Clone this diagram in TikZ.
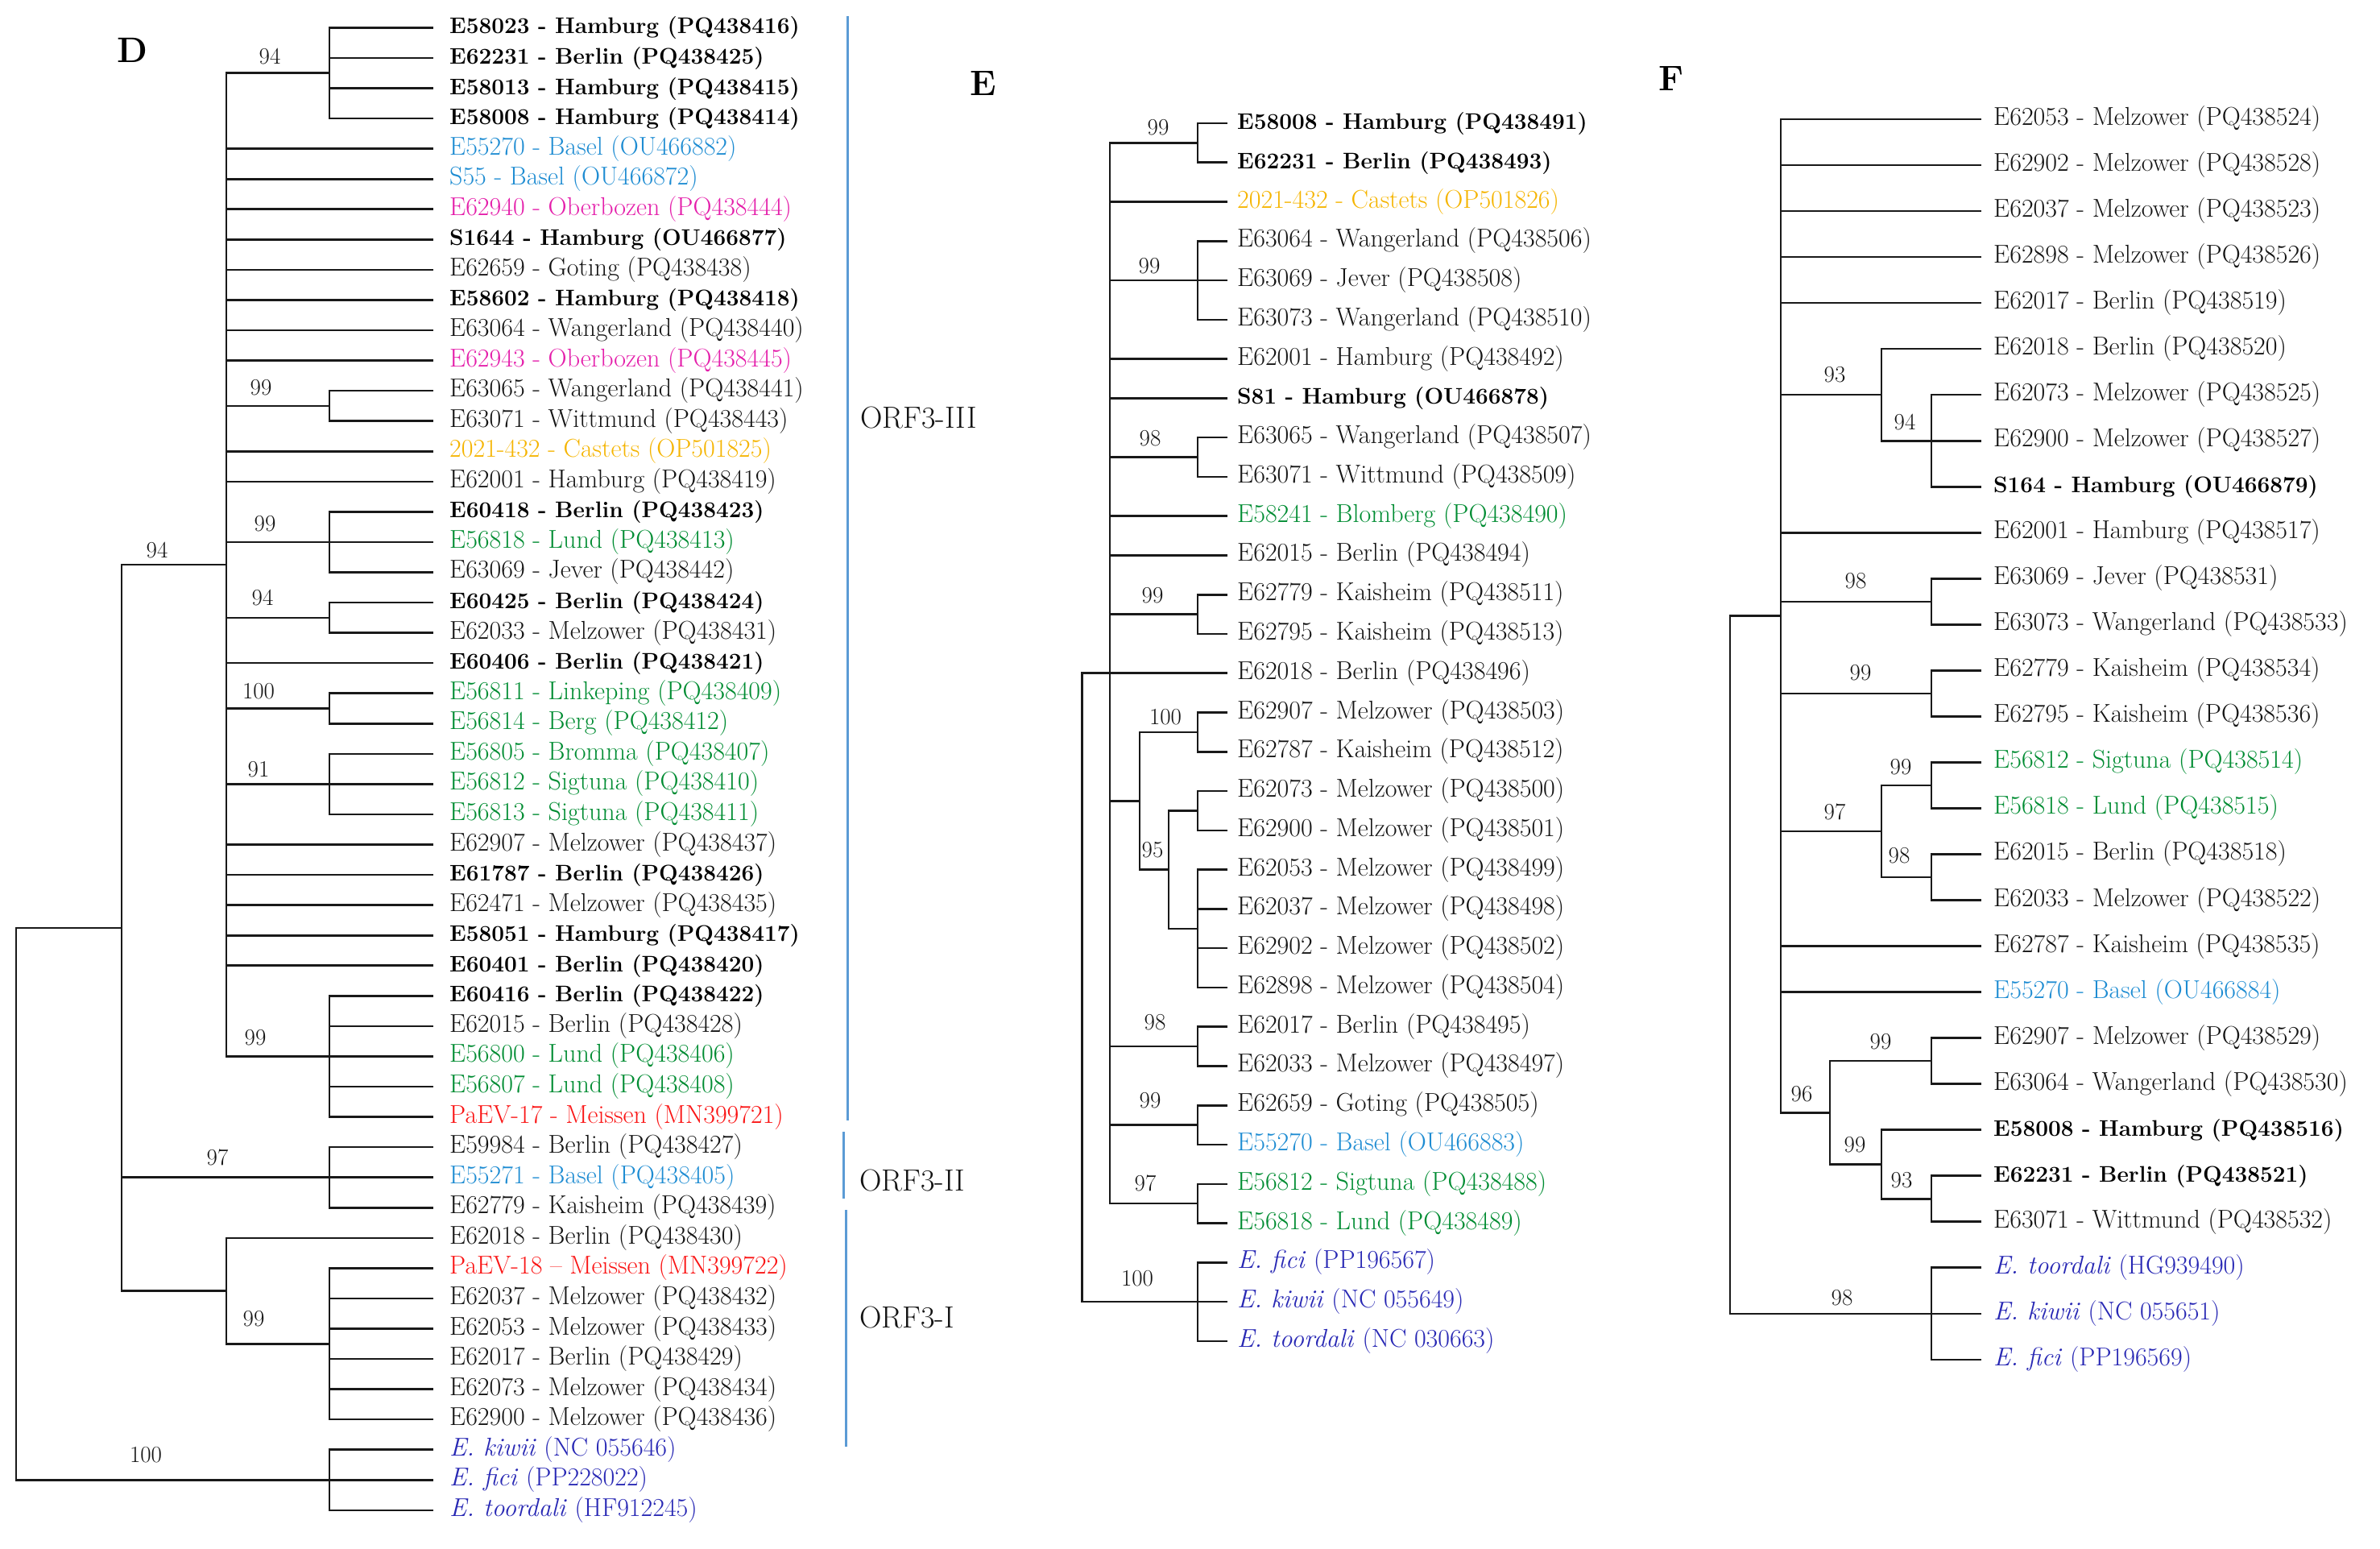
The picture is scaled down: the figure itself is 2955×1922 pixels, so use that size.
\documentclass[tikz,border=0pt]{standalone}
\usepackage{tikz}
\definecolor{txtc}{RGB}{20,20,20}
\definecolor{baselc}{RGB}{30,140,210}
\definecolor{obzc}{RGB}{228,30,170}
\definecolor{cstc}{RGB}{245,180,0}
\definecolor{swec}{RGB}{0,140,50}
\definecolor{pavc}{RGB}{250,20,20}
\definecolor{spcc}{RGB}{40,40,180}
\definecolor{orfc}{RGB}{91,155,213}
\newcommand\yD[1]{34.4+37.56*(#1)}
\newcommand\yE[1]{153+48.77*(#1)}
\newcommand\yF[1]{148+57.03*(#1)}
\tikzset{
  br/.style={line width=2.6pt, draw=black!90, line join=miter},
  leaf/.style={anchor=west, inner ysep=0pt, text height=22pt, text depth=7pt, font=\fontsize{32}{34}\selectfont, text=txtc},
  leafD/.style={leaf, inner xsep=20pt},
  leafE/.style={leaf, inner xsep=12pt},
  leafF/.style={leaf, inner xsep=15pt},
  bld/.style={font=\fontsize{28}{31}\selectfont\bfseries, text=black},
  bsl/.style={text=baselc},
  obz/.style={text=obzc},
  cst/.style={text=cstc},
  swe/.style={text=swec},
  pav/.style={text=pavc},
  spc/.style={text=spcc},
  bs/.style={inner sep=0pt, text height=19pt, text depth=0pt, font=\fontsize{29}{32}\selectfont, text=txtc},
  panel/.style={inner sep=0pt, font=\fontsize{44}{48}\selectfont\bfseries},
  orf/.style={anchor=west, inner sep=0pt, font=\fontsize{38}{42}\selectfont, text=txtc},
  orfline/.style={line width=3pt, draw=orfc}
}
\newcommand\lD[3]{\node[leafD,#2] (dl#1) at (538,{\yD{#1}}) {#3};}
\newcommand\lE[3]{\node[leafE,#2] (el#1) at (1524,{\yE{#1}}) {#3};}
\newcommand\lF[3]{\node[leafF,#2] (fl#1) at (2460,{\yF{#1}}) {#3};}
\begin{document}
\begin{tikzpicture}[x=1pt,y=-1pt]
\useasboundingbox (0,0) rectangle (2955,1922);
% ================= Panel D =================
\node[panel] (labD) at (164,62) {D};
\lD{0}{bld}{E58023 - Hamburg (PQ438416)}
\lD{1}{bld}{E62231 - Berlin (PQ438425)}
\lD{2}{bld}{E58013 - Hamburg (PQ438415)}
\lD{3}{bld}{E58008 - Hamburg (PQ438414)}
\lD{4}{bsl}{E55270 - Basel (OU466882)}
\lD{5}{bsl}{S55 - Basel (OU466872)}
\lD{6}{obz}{E62940 - Oberbozen (PQ438444)}
\lD{7}{bld}{S1644 - Hamburg (OU466877)}
\lD{8}{}{E62659 - Goting (PQ438438)}
\lD{9}{bld}{E58602 - Hamburg (PQ438418)}
\lD{10}{}{E63064 - Wangerland (PQ438440)}
\lD{11}{obz}{E62943 - Oberbozen (PQ438445)}
\lD{12}{}{E63065 - Wangerland (PQ438441)}
\lD{13}{}{E63071 - Wittmund (PQ438443)}
\lD{14}{cst}{2021-432 - Castets (OP501825)}
\lD{15}{}{E62001 - Hamburg (PQ438419)}
\lD{16}{bld}{E60418 - Berlin (PQ438423)}
\lD{17}{swe}{E56818 - Lund (PQ438413)}
\lD{18}{}{E63069 - Jever (PQ438442)}
\lD{19}{bld}{E60425 - Berlin (PQ438424)}
\lD{20}{}{E62033 - Melzower (PQ438431)}
\lD{21}{bld}{E60406 - Berlin (PQ438421)}
\lD{22}{swe}{E56811 - Linkeping (PQ438409)}
\lD{23}{swe}{E56814 - Berg (PQ438412)}
\lD{24}{swe}{E56805 - Bromma (PQ438407)}
\lD{25}{swe}{E56812 - Sigtuna (PQ438410)}
\lD{26}{swe}{E56813 - Sigtuna (PQ438411)}
\lD{27}{}{E62907 - Melzower (PQ438437)}
\lD{28}{bld}{E61787 - Berlin (PQ438426)}
\lD{29}{}{E62471 - Melzower (PQ438435)}
\lD{30}{bld}{E58051 - Hamburg (PQ438417)}
\lD{31}{bld}{E60401 - Berlin (PQ438420)}
\lD{32}{bld}{E60416 - Berlin (PQ438422)}
\lD{33}{}{E62015 - Berlin (PQ438428)}
\lD{34}{swe}{E56800 - Lund (PQ438406)}
\lD{35}{swe}{E56807 - Lund (PQ438408)}
\lD{36}{pav}{PaEV-17 - Meissen (MN399721)}
\lD{37}{}{E59984 - Berlin (PQ438427)}
\lD{38}{bsl}{E55271 - Basel (PQ438405)}
\lD{39}{}{E62779 - Kaisheim (PQ438439)}
\lD{40}{}{E62018 - Berlin (PQ438430)}
\lD{41}{pav}{PaEV-18 – Meissen (MN399722)}
\lD{42}{}{E62037 - Melzower (PQ438432)}
\lD{43}{}{E62053 - Melzower (PQ438433)}
\lD{44}{}{E62017 - Berlin (PQ438429)}
\lD{45}{}{E62073 - Melzower (PQ438434)}
\lD{46}{}{E62900 - Melzower (PQ438436)}
\lD{47}{spc}{\textit{E. kiwii} (NC 055646)}
\lD{48}{spc}{\textit{E. fici} (PP228022)}
\lD{49}{spc}{\textit{E. toordali} (HF912245)}
\coordinate (droot) at (20,{\yD{38.875}});
\coordinate (dA) at (151,{\yD{29.75}});
\coordinate (dB) at (281,{\yD{17.75}});
\coordinate (dC) at (281,{\yD{41.75}});
\coordinate (d94a) at (409,{\yD{1.5}});
\coordinate (d99a) at (409,{\yD{12.5}});
\coordinate (d99b) at (409,{\yD{17}});
\coordinate (d94b) at (409,{\yD{19.5}});
\coordinate (d100) at (409,{\yD{22.5}});
\coordinate (d91) at (409,{\yD{25}});
\coordinate (d99c) at (409,{\yD{34}});
\coordinate (d97) at (409,{\yD{38}});
\coordinate (d99d) at (409,{\yD{43.5}});
\coordinate (dout) at (409,{\yD{48}});
\foreach \c in {dA,dout} \draw[br] (droot) |- (\c);
\foreach \c in {dB,d97,dC} \draw[br] (dA) |- (\c);
\foreach \c in {d94a,d99a,d99b,d94b,d100,d91,d99c} \draw[br] (dB) |- (\c);
\foreach \i in {4,...,11,14,15,21,27,28,29,30,31} \draw[br] (dB) |- (dl\i.west);
\foreach \i in {0,...,3} \draw[br] (d94a) |- (dl\i.west);
\foreach \i in {12,13} \draw[br] (d99a) |- (dl\i.west);
\foreach \i in {16,17,18} \draw[br] (d99b) |- (dl\i.west);
\foreach \i in {19,20} \draw[br] (d94b) |- (dl\i.west);
\foreach \i in {22,23} \draw[br] (d100) |- (dl\i.west);
\foreach \i in {24,25,26} \draw[br] (d91) |- (dl\i.west);
\foreach \i in {32,...,36} \draw[br] (d99c) |- (dl\i.west);
\foreach \i in {37,38,39} \draw[br] (d97) |- (dl\i.west);
\draw[br] (dC) |- (dl40.west);
\draw[br] (dC) |- (d99d);
\foreach \i in {41,...,46} \draw[br] (d99d) |- (dl\i.west);
\foreach \i in {47,48,49} \draw[br] (dout) |- (dl\i.west);
% bootstrap D
\node[bs] (bd1) at (335,70) {94};
\node[bs] (bd2) at (324,481) {99};
\node[bs] (bd3) at (329,650) {99};
\node[bs] (bd4) at (326,742) {94};
\node[bs] (bd5) at (321,858) {100};
\node[bs] (bd6) at (321,955) {91};
\node[bs] (bd7) at (317,1288) {99};
\node[bs] (bd8) at (195,683) {94};
\node[bs] (bd9) at (270,1437) {97};
\node[bs] (bd10) at (315,1637) {99};
\node[bs] (bd11) at (181,1806) {100};
% ORF brackets
\coordinate (o3t) at (1052,20);
\coordinate (o3b) at (1052,1391);
\coordinate (o2t) at (1047,1405);
\coordinate (o2b) at (1047,1488);
\coordinate (o1t) at (1050,1502);
\coordinate (o1b) at (1050,1796);
\draw[orfline] (o3t) -- (o3b);
\draw[orfline] (o2t) -- (o2b);
\draw[orfline] (o1t) -- (o1b);
\node[orf] (orf3) at (1068,519) {ORF3-III};
\node[orf] (orf2) at (1067,1466) {ORF3-II};
\node[orf] (orf1) at (1067,1636) {ORF3-I};
% ================= Panel E =================
\node[panel] (labE) at (1221,104) {E};
\lE{0}{bld}{E58008 - Hamburg (PQ438491)}
\lE{1}{bld}{E62231 - Berlin (PQ438493)}
\lE{2}{cst}{2021-432 - Castets (OP501826)}
\lE{3}{}{E63064 - Wangerland (PQ438506)}
\lE{4}{}{E63069 - Jever (PQ438508)}
\lE{5}{}{E63073 - Wangerland (PQ438510)}
\lE{6}{}{E62001 - Hamburg (PQ438492)}
\lE{7}{bld}{S81 - Hamburg (OU466878)}
\lE{8}{}{E63065 - Wangerland (PQ438507)}
\lE{9}{}{E63071 - Wittmund (PQ438509)}
\lE{10}{swe}{E58241 - Blomberg (PQ438490)}
\lE{11}{}{E62015 - Berlin (PQ438494)}
\lE{12}{}{E62779 - Kaisheim (PQ438511)}
\lE{13}{}{E62795 - Kaisheim (PQ438513)}
\lE{14}{}{E62018 - Berlin (PQ438496)}
\lE{15}{}{E62907 - Melzower (PQ438503)}
\lE{16}{}{E62787 - Kaisheim (PQ438512)}
\lE{17}{}{E62073 - Melzower (PQ438500)}
\lE{18}{}{E62900 - Melzower (PQ438501)}
\lE{19}{}{E62053 - Melzower (PQ438499)}
\lE{20}{}{E62037 - Melzower (PQ438498)}
\lE{21}{}{E62902 - Melzower (PQ438502)}
\lE{22}{}{E62898 - Melzower (PQ438504)}
\lE{23}{}{E62017 - Berlin (PQ438495)}
\lE{24}{}{E62033 - Melzower (PQ438497)}
\lE{25}{}{E62659 - Goting (PQ438505)}
\lE{26}{bsl}{E55270 - Basel (OU466883)}
\lE{27}{swe}{E56812 - Sigtuna (PQ438488)}
\lE{28}{swe}{E56818 - Lund (PQ438489)}
\lE{29}{spc}{\textit{E. fici} (PP196567)}
\lE{30}{spc}{\textit{E. kiwii} (NC 055649)}
\lE{31}{spc}{\textit{E. toordali} (NC 030663)}
\coordinate (eR) at (1343.6,{\yE{22}});
\coordinate (eM) at (1378,{\yE{14}});
\coordinate (e99a) at (1487,{\yE{0.5}});
\coordinate (e99b) at (1487,{\yE{4}});
\coordinate (e98) at (1487,{\yE{8.5}});
\coordinate (e99c) at (1487,{\yE{12.5}});
\coordinate (eP) at (1415,{\yE{17.25}});
\coordinate (e100) at (1487,{\yE{15.5}});
\coordinate (e95) at (1451,{\yE{19}});
\coordinate (eSa) at (1487,{\yE{17.5}});
\coordinate (eSb) at (1487,{\yE{20.5}});
\coordinate (e98b) at (1487,{\yE{23.5}});
\coordinate (e99d) at (1487,{\yE{25.5}});
\coordinate (e97) at (1487,{\yE{27.5}});
\coordinate (eout) at (1487,{\yE{30}});
\foreach \c in {eM,eout} \draw[br] (eR) |- (\c);
\foreach \c in {e99a,e99b,e98,e99c,eP,e98b,e99d,e97} \draw[br] (eM) |- (\c);
\foreach \i in {2,6,7,10,11,14} \draw[br] (eM) |- (el\i.west);
\foreach \i in {0,1} \draw[br] (e99a) |- (el\i.west);
\foreach \i in {3,4,5} \draw[br] (e99b) |- (el\i.west);
\foreach \i in {8,9} \draw[br] (e98) |- (el\i.west);
\foreach \i in {12,13} \draw[br] (e99c) |- (el\i.west);
\foreach \c in {e100,e95} \draw[br] (eP) |- (\c);
\foreach \i in {15,16} \draw[br] (e100) |- (el\i.west);
\foreach \c in {eSa,eSb} \draw[br] (e95) |- (\c);
\foreach \i in {17,18} \draw[br] (eSa) |- (el\i.west);
\foreach \i in {19,...,22} \draw[br] (eSb) |- (el\i.west);
\foreach \i in {23,24} \draw[br] (e98b) |- (el\i.west);
\foreach \i in {25,26} \draw[br] (e99d) |- (el\i.west);
\foreach \i in {27,28} \draw[br] (e97) |- (el\i.west);
\foreach \i in {29,30,31} \draw[br] (eout) |- (el\i.west);
\node[bs] (be1) at (1438,158) {99};
\node[bs] (be2) at (1427,330) {99};
\node[bs] (be3) at (1428,544) {98};
\node[bs] (be4) at (1431,739) {99};
\node[bs] (be5) at (1447,890) {100};
\node[bs] (be6) at (1431,1055) {95};
\node[bs] (be7) at (1434,1269) {98};
\node[bs] (be8) at (1428,1366) {99};
\node[bs] (be9) at (1422,1469) {97};
\node[bs] (be10) at (1412,1587) {100};
% ================= Panel F =================
\node[panel] (labF) at (2075,98) {F};
\lF{0}{}{E62053 - Melzower (PQ438524)}
\lF{1}{}{E62902 - Melzower (PQ438528)}
\lF{2}{}{E62037 - Melzower (PQ438523)}
\lF{3}{}{E62898 - Melzower (PQ438526)}
\lF{4}{}{E62017 - Berlin (PQ438519)}
\lF{5}{}{E62018 - Berlin (PQ438520)}
\lF{6}{}{E62073 - Melzower (PQ438525)}
\lF{7}{}{E62900 - Melzower (PQ438527)}
\lF{8}{bld}{S164 - Hamburg (OU466879)}
\lF{9}{}{E62001 - Hamburg (PQ438517)}
\lF{10}{}{E63069 - Jever (PQ438531)}
\lF{11}{}{E63073 - Wangerland (PQ438533)}
\lF{12}{}{E62779 - Kaisheim (PQ438534)}
\lF{13}{}{E62795 - Kaisheim (PQ438536)}
\lF{14}{swe}{E56812 - Sigtuna (PQ438514)}
\lF{15}{swe}{E56818 - Lund (PQ438515)}
\lF{16}{}{E62015 - Berlin (PQ438518)}
\lF{17}{}{E62033 - Melzower (PQ438522)}
\lF{18}{}{E62787 - Kaisheim (PQ438535)}
\lF{19}{bsl}{E55270 - Basel (OU466884)}
\lF{20}{}{E62907 - Melzower (PQ438529)}
\lF{21}{}{E63064 - Wangerland (PQ438530)}
\lF{22}{bld}{E58008 - Hamburg (PQ438516)}
\lF{23}{bld}{E62231 - Berlin (PQ438521)}
\lF{24}{}{E63071 - Wittmund (PQ438532)}
\lF{25}{spc}{\textit{E. toordali} (HG939490)}
\lF{26}{spc}{\textit{E. kiwii} (NC 055651)}
\lF{27}{spc}{\textit{E. fici} (PP196569)}
\coordinate (fR) at (2148,{\yF{18.40625}});
\coordinate (fM) at (2211,{\yF{10.8125}});
\coordinate (f93) at (2336,{\yF{6}});
\coordinate (f94) at (2398,{\yF{7}});
\coordinate (f98) at (2398,{\yF{10.5}});
\coordinate (f99) at (2398,{\yF{12.5}});
\coordinate (f97) at (2336,{\yF{15.5}});
\coordinate (f99b) at (2398,{\yF{14.5}});
\coordinate (f98b) at (2398,{\yF{16.5}});
\coordinate (f96) at (2272,{\yF{21.625}});
\coordinate (f99c) at (2398,{\yF{20.5}});
\coordinate (f99d) at (2336,{\yF{22.75}});
\coordinate (f93b) at (2398,{\yF{23.5}});
\coordinate (fout) at (2398,{\yF{26}});
\foreach \c in {fM,fout} \draw[br] (fR) |- (\c);
\foreach \c in {f93,f98,f99,f97,f96} \draw[br] (fM) |- (\c);
\foreach \i in {0,...,4,9,18,19} \draw[br] (fM) |- (fl\i.west);
\draw[br] (f93) |- (fl5.west);
\draw[br] (f93) |- (f94);
\foreach \i in {6,7,8} \draw[br] (f94) |- (fl\i.west);
\foreach \i in {10,11} \draw[br] (f98) |- (fl\i.west);
\foreach \i in {12,13} \draw[br] (f99) |- (fl\i.west);
\foreach \c in {f99b,f98b} \draw[br] (f97) |- (\c);
\foreach \i in {14,15} \draw[br] (f99b) |- (fl\i.west);
\foreach \i in {16,17} \draw[br] (f98b) |- (fl\i.west);
\foreach \c in {f99c,f99d} \draw[br] (f96) |- (\c);
\foreach \i in {20,21} \draw[br] (f99c) |- (fl\i.west);
\draw[br] (f99d) |- (fl22.west);
\draw[br] (f99d) |- (f93b);
\foreach \i in {23,24} \draw[br] (f93b) |- (fl\i.west);
\foreach \i in {25,26,27} \draw[br] (fout) |- (fl\i.west);
\node[bs] (bf1) at (2278,465) {93};
\node[bs] (bf2) at (2365,524) {94};
\node[bs] (bf3) at (2304,721) {98};
\node[bs] (bf4) at (2310,835) {99};
\node[bs] (bf5) at (2360,952) {99};
\node[bs] (bf6) at (2278,1008) {97};
\node[bs] (bf7) at (2358,1062) {98};
\node[bs] (bf8) at (2335,1293) {99};
\node[bs] (bf9) at (2237,1358) {96};
\node[bs] (bf10) at (2303,1421) {99};
\node[bs] (bf11) at (2361,1465) {93};
\node[bs] (bf12) at (2287,1611) {98};
\end{tikzpicture}
\end{document}
